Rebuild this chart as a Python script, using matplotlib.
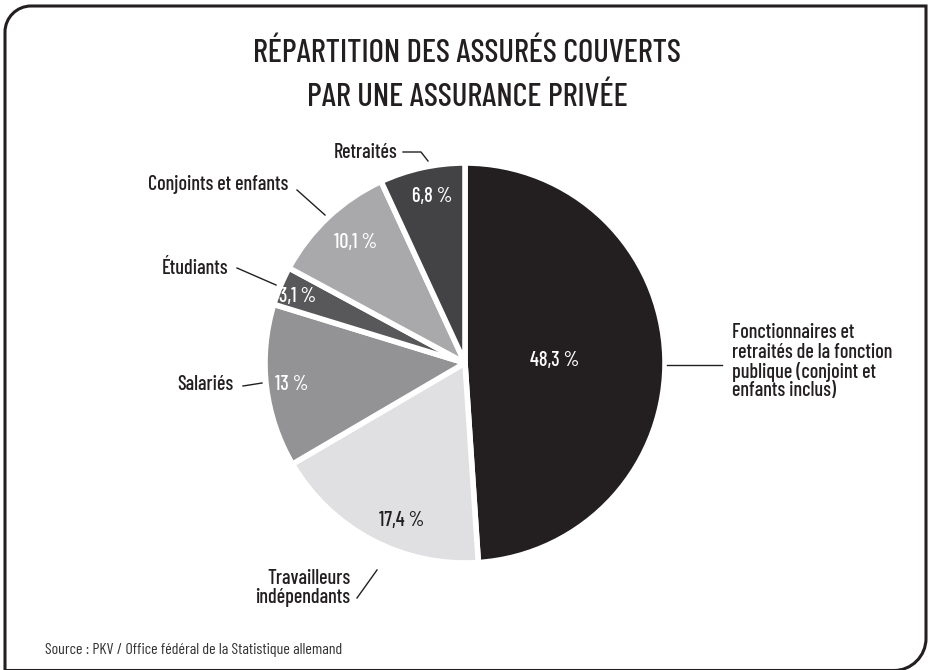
import matplotlib
matplotlib.use("Agg")
import matplotlib.pyplot as plt
from matplotlib.path import Path
from matplotlib.patches import PathPatch

plt.rcParams['font.family'] = ['Barlow Condensed', 'Roboto', 'DejaVu Sans']
plt.rcParams['font.weight'] = 'medium'

# data
categories = ["Fonctionnaires et\nretraités de la fonction\npublique (conjoint et\nenfants inclus)",
              "Travailleurs\nindépendants", "Salariés", "Étudiants",
              "Conjoints et enfants", "Retraités"]
shares = [48.3, 17.4, 13.0, 3.1, 10.1, 6.8]
share_labels = ["48,3 %", "17,4 %", "13 %", "3,1 %", "10,1 %", "6,8 %"]
colors = ["#231f20", "#e0e0e2", "#939396", "#58585a", "#a9a9ac", "#434345"]
pct_colors = ["white", "#231f20", "white", "white", "white", "white"]

W, H = 930, 670
fig = plt.figure(figsize=(W / 100, H / 100), dpi=100)
ax = fig.add_axes([0, 0, 1, 1])


def Y(y):
    # image pixel row -> data y
    return H - y


cx, cy, r = 465, 363, 200
wedges, _ = ax.pie(shares, colors=colors, startangle=90, counterclock=False,
                   center=(cx, Y(cy)), radius=r, frame=True,
                   wedgeprops=dict(edgecolor="white", linewidth=4,
                                   joinstyle="round"))
ax.set_xlim(0, W)
ax.set_ylim(0, H)
ax.axis("off")

# percentage labels (pixel positions)
pct_pos = [(555, 360), (402, 521), (292, 384), (298, 296), (356, 242), (432, 196)]
for (x, y), t, c in zip(pct_pos, share_labels, pct_colors):
    ax.text(x, Y(y), t, color=c, fontsize=14.5, ha="center", va="center")

# category labels and leader lines
lab_pos = [(732, 362, "left"), (350, 588, "right"), (233, 385, "right"),
           (228, 268, "right"), (288, 185, "right"), (397, 152, "right")]
leaders = [[(667, 365), (722, 365)],
           [(357, 598), (377, 570)],
           [(243, 386), (262, 383)],
           [(237, 268), (276, 285)],
           [(297, 190), (325, 215)],
           [(403, 152), (421, 152), (428, 161)]]
for (x, y, ha), t, pts in zip(lab_pos, categories, leaders):
    ax.text(x, Y(y), t, fontsize=14.5, ha=ha, va="center", color="#231f20",
            linespacing=1.0)
    ax.plot([p[0] for p in pts], [Y(p[1]) for p in pts], color="#231f20", lw=1)

ax.text(467, Y(75), "RÉPARTITION DES ASSURÉS COUVERTS\nPAR UNE ASSURANCE PRIVÉE",
        fontsize=23.5, ha="center", va="center", color="#231f20", linespacing=1.62)
ax.text(45, Y(650), "Source : PKV / Office fédéral de la Statistique allemand",
        fontsize=11.5, ha="left", va="center", color="#333333", fontweight="normal")

# frame: rounded top-left and bottom-right corners
L, T, R, B = 5, 6, 926, 670.5
k = 0.55
verts = [(L, Y(H + 5)), (L, Y(T + 26)),
         (L, Y(T + 26 - 26 * k)), (L + 26 - 26 * k, Y(T)), (L + 26, Y(T)),
         (R, Y(T)), (R, Y(B - 32)),
         (R, Y(B - 32 + 32 * k)), (R - 32 + 32 * k, Y(B)), (R - 32, Y(B)),
         (L, Y(B))]
codes = [Path.MOVETO, Path.LINETO, Path.CURVE4, Path.CURVE4, Path.CURVE4,
         Path.LINETO, Path.LINETO, Path.CURVE4, Path.CURVE4, Path.CURVE4,
         Path.LINETO]
ax.add_patch(PathPatch(Path(verts, codes), fill=False, edgecolor="#231f20",
                       lw=2.2, clip_on=False))

fig.savefig("out.png", dpi=100)
